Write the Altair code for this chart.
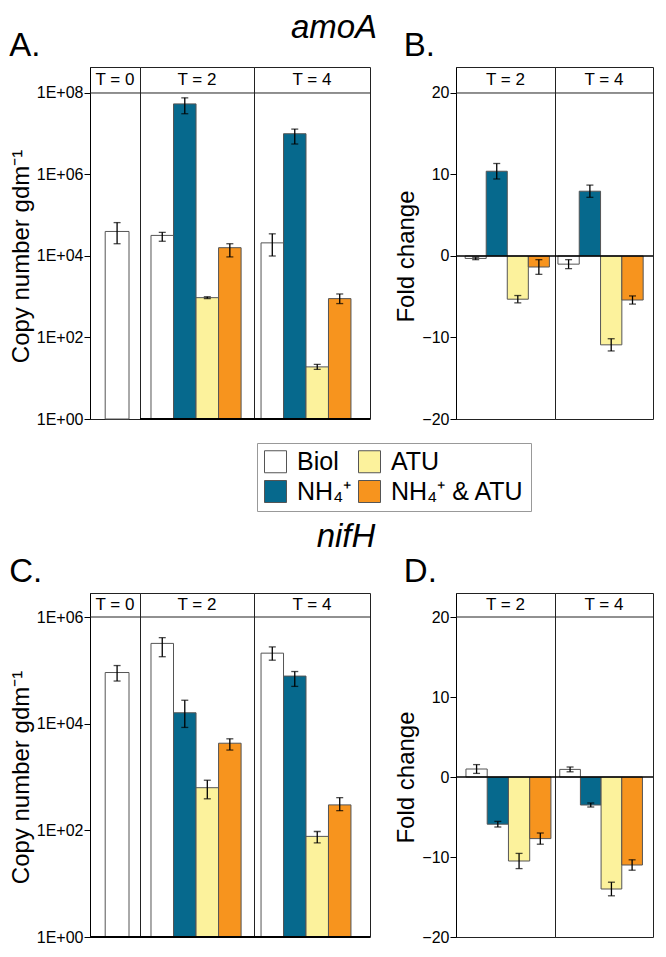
import altair as alt
import pandas as pd

FONT = "Liberation Sans, Arial, sans-serif"

# ---------------- data ----------------
treatments = ["Biol", "NH₄⁺", "ATU", "NH₄⁺ & ATU"]
bar_colors = ["#ffffff", "#06698d", "#fcf29c", "#f7941e"]

copy_times = ["T = 0", "T = 2", "T = 4"]
fold_times = ["T = 2", "T = 4"]
genes = ["amoA", "nifH"]
panel_letters = ["A.", "B.", "C.", "D."]

copy_ticks = [1, 1e2, 1e4, 1e6, 1e8]
copy_ticks_nifH = [1, 1e2, 1e4, 1e6]
fold_ticks = [-20, -10, 0, 10, 20]

# amoA copy number (gdm-1): mean, lower and upper error limits
amoA_copy_t0 = [4.0e4]
amoA_copy_t0_lo = [2.0e4]
amoA_copy_t0_hi = [6.6e4]
amoA_copy_t2 = [3.2e4, 5.4e7, 9.5e2, 1.6e4]
amoA_copy_t2_lo = [2.3e4, 3.1e7, 9.0e2, 9.5e3]
amoA_copy_t2_hi = [3.8e4, 7.6e7, 1.0e3, 2.0e4]
amoA_copy_t4 = [2.1e4, 1.0e7, 19, 9.0e2]
amoA_copy_t4_lo = [1.0e4, 5.6e6, 16.5, 6.8e2]
amoA_copy_t4_hi = [3.5e4, 1.3e7, 22, 1.17e3]

# amoA fold change: mean and error
amoA_fold_t2 = [-0.3, 10.4, -5.3, -1.35]
amoA_fold_t2_err = [0.15, 0.95, 0.45, 0.9]
amoA_fold_t4 = [-1.0, 7.95, -10.9, -5.4]
amoA_fold_t4_err = [0.55, 0.75, 0.75, 0.5]

# nifH copy number (gdm-1)
nifH_copy_t0 = [9.1e4]
nifH_copy_t0_lo = [6.3e4]
nifH_copy_t0_hi = [1.23e5]
nifH_copy_t2 = [3.2e5, 1.6e4, 6.3e2, 4.3e3]
nifH_copy_t2_lo = [1.8e5, 8.5e3, 3.9e2, 3.2e3]
nifH_copy_t2_hi = [4.1e5, 2.75e4, 8.7e2, 5.2e3]
nifH_copy_t4 = [2.1e5, 7.8e4, 77, 300]
nifH_copy_t4_lo = [1.55e5, 5.0e4, 58, 234]
nifH_copy_t4_hi = [2.75e5, 9.5e4, 95, 410]

# nifH fold change
nifH_fold_t2 = [1.0, -5.9, -10.5, -7.7]
nifH_fold_t2_err = [0.55, 0.35, 0.95, 0.7]
nifH_fold_t4 = [0.95, -3.5, -14.0, -11.0]
nifH_fold_t4_err = [0.3, 0.25, 0.85, 0.65]

# ---------------- styling ----------------
color_scale = alt.Scale(domain=treatments, range=bar_colors)
legend = alt.Legend(
    title=None, orient="none", legendX=167, legendY=376, columns=2,
    symbolType="square", symbolSize=484,
    symbolStrokeColor="#555", symbolStrokeWidth=1, labelFontSize=25,
    labelFont=FONT, labelColor="black", labelOffset=9, columnPadding=4,
    rowPadding=3, strokeColor="#999", padding=6, fillColor="white",
    labelLimit=400,
)


def y_axis(kind, title, title_y, ticks):
    common = dict(
        values=ticks, grid=False, tickSize=6, tickColor="black", tickWidth=1,
        domainColor="black", domainWidth=1, labelFontSize=16, labelColor="black",
        labelFont=FONT, titleFont=FONT, titleFontSize=24, titleFontWeight="normal",
        titleColor="black", labelPadding=1, titlePadding=3, titleY=title_y,
        title=title,
    )
    if kind == "log":
        common["labelExpr"] = "'1E+0' + round(log(datum.value) / LN10)"
    return alt.Axis(**common)


LETTER = dict(fontSize=33, font=FONT, fontWeight="normal", color="black", anchor="start", offset=4)


def cell(time, vals, lo, hi, kind, width, height, ydomain, line_val, label_val,
         pad_outer, align, axis, bottom_rule, title=None, title_dx=0):
    cats = treatments[:len(vals)]
    df = pd.DataFrame({"treatment": cats, "value": vals, "lo": lo, "hi": hi})
    x = alt.X("treatment:N", sort=cats,
              scale=alt.Scale(domain=cats, paddingInner=0, paddingOuter=pad_outer, align=align),
              axis=None)
    if kind == "log":
        yscale = alt.Scale(type="log", domain=ydomain, nice=False)
        base = 1
    else:
        yscale = alt.Scale(domain=ydomain, nice=False, zero=False)
        base = 0

    def Y(field):
        return alt.Y(field, scale=yscale, axis=axis)

    def YD(v):
        return alt.YDatum(datum=v, scale=yscale, axis=axis)

    bars = alt.Chart(df).mark_bar(stroke="#555", strokeWidth=1).encode(
        x=x, y=Y("value:Q"), y2=alt.datum(base),
        color=alt.Color("treatment:N", scale=color_scale, legend=legend),
    )
    err = alt.Chart(df).mark_rule(color="black", strokeWidth=1.3).encode(
        x=x, y=Y("lo:Q"), y2="hi:Q")
    cap_lo = alt.Chart(df).mark_tick(color="black", size=7, thickness=1.3).encode(
        x=x, y=Y("lo:Q"))
    cap_hi = alt.Chart(df).mark_tick(color="black", size=7, thickness=1.3).encode(
        x=x, y=Y("hi:Q"))
    one = pd.DataFrame({"t": [time]})
    hdr_line = alt.Chart(one).mark_rule(color="#222", strokeWidth=1).encode(y=YD(line_val))
    hdr_text = alt.Chart(one).mark_text(fontSize=17, font=FONT, color="black").encode(
        text="t:N", x=alt.value(width / 2), y=YD(label_val))
    layers = [bars, err, cap_lo, cap_hi, hdr_line, hdr_text]
    if kind == "fold":
        layers.append(alt.Chart(one).mark_rule(color="black", strokeWidth=1.5).encode(y=YD(0)))
    if bottom_rule:
        layers.append(alt.Chart(one).mark_rule(color="black", strokeWidth=2).encode(y=YD(base)))
    ch = alt.layer(*layers).properties(width=width, height=height)
    if title is not None:
        ch = ch.properties(title=alt.TitleParams(title, dx=title_dx, **LETTER))
    return ch


def spacer(gene, width, height, dx, offset):
    return alt.Chart(pd.DataFrame({"g": [gene]})).mark_text(opacity=0, fontSize=1).encode(
        text="g:N", x=alt.value(width / 2), y=alt.value(height / 2)
    ).properties(
        width=width, height=height,
        view=alt.ViewBackground(strokeOpacity=0),
        title=alt.TitleParams(gene, fontSize=33, font=FONT, fontWeight="normal",
                              fontStyle="italic", color="black", anchor="middle",
                              dx=dx, offset=offset),
    )


def fold_lohi(v, e):
    return [a - b for a, b in zip(v, e)], [a + b for a, b in zip(v, e)]


GAP = 86
WB2, WB4 = 99, 98

# ---------------- row 1 : amoA ----------------
HA = 352
dA = [1, 10 ** 8.638]
axA = y_axis("log", "Copy number gdm⁻¹", 189, copy_ticks)
A0 = cell(copy_times[0], amoA_copy_t0, amoA_copy_t0_lo, amoA_copy_t0_hi, "log", 50, HA, dA, 1e8,
          10 ** 8.319, 0.55, 0.58, axA, False, title=panel_letters[0])
A2 = cell(copy_times[1], amoA_copy_t2, amoA_copy_t2_lo, amoA_copy_t2_hi, "log", 114, HA, dA, 1e8,
          10 ** 8.319, 0.53, 0.46, None, True)
A4 = cell(copy_times[2], amoA_copy_t4, amoA_copy_t4_lo, amoA_copy_t4_hi, "log", 116, HA, dA, 1e8,
          10 ** 8.319, 0.58, 0.27, None, True)
S1 = spacer(genes[0], GAP, HA, -79, 22)

dB = [-20, 23.19]
axB = y_axis("fold", "Fold change", 189, fold_ticks)
lo2, hi2 = fold_lohi(amoA_fold_t2, amoA_fold_t2_err)
lo4, hi4 = fold_lohi(amoA_fold_t4, amoA_fold_t4_err)
B2 = cell(fold_times[0], amoA_fold_t2, lo2, hi2, "fold", WB2, HA, dB, 20, 21.595, 0.35, 0.62, axB,
          False, title=panel_letters[1], title_dx=9)
B4 = cell(fold_times[1], amoA_fold_t4, lo4, hi4, "fold", WB4, HA, dB, 20, 21.595, 0.3, 0.23, None, False)

# ---------------- row 2 : nifH ----------------
HC = 344
dC = [1, 10 ** 6.45]
axC = y_axis("log", "Copy number gdm⁻¹", 184, copy_ticks_nifH)
C0 = cell(copy_times[0], nifH_copy_t0, nifH_copy_t0_lo, nifH_copy_t0_hi, "log", 50, HC, dC, 1e6,
          10 ** 6.225, 0.55, 0.58, axC, True, title=panel_letters[2])
C2 = cell(copy_times[1], nifH_copy_t2, nifH_copy_t2_lo, nifH_copy_t2_hi, "log", 114, HC, dC, 1e6,
          10 ** 6.225, 0.53, 0.46, None, True)
C4 = cell(copy_times[2], nifH_copy_t4, nifH_copy_t4_lo, nifH_copy_t4_hi, "log", 116, HC, dC, 1e6,
          10 ** 6.225, 0.58, 0.27, None, True)
S2 = spacer(genes[1], GAP, HC, -67, 39)

dD = [-20, 23.0]
axD = y_axis("fold", "Fold change", 184, fold_ticks)
nlo2, nhi2 = fold_lohi(nifH_fold_t2, nifH_fold_t2_err)
nlo4, nhi4 = fold_lohi(nifH_fold_t4, nifH_fold_t4_err)
D2 = cell(fold_times[0], nifH_fold_t2, nlo2, nhi2, "fold", WB2, HC, dD, 20, 21.5, 0.33, 0.71, axD,
          False, title=panel_letters[3], title_dx=9)
D4 = cell(fold_times[1], nifH_fold_t4, nlo4, nhi4, "fold", WB4, HC, dD, 20, 21.5, 0.37, 0.31, None, False)

chart = alt.concat(
    A0, A2, A4, S1, B2, B4,
    C0, C2, C4, S2, D2, D4,
    columns=6, spacing={"row": 174, "column": 0}, bounds="flush", align="each",
).properties(
    padding={"left": 0, "top": 4, "right": 0, "bottom": 0}
).configure(font=FONT).configure_view(stroke="#222", strokeWidth=1)

chart.save("out.html", embed_options={"renderer": "svg", "actions": False})
